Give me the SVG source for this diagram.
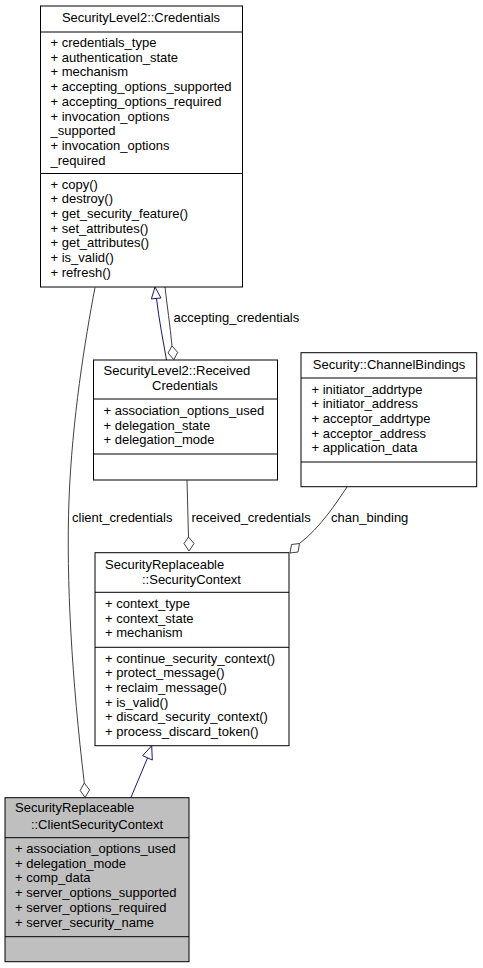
<svg xmlns="http://www.w3.org/2000/svg" width="483" height="968" viewBox="0 0 483 968">
<style>
text{font-family:"Liberation Sans",Arial,Helvetica,sans-serif;font-size:13px;fill:#000}
.c{text-anchor:middle}
.box{fill:#fff;stroke:#000;stroke-width:1}
.sel{fill:#bfbfbf;stroke:#000;stroke-width:1}
.div{stroke:#000;stroke-width:1;fill:none}
.agg{fill:none;stroke:#404040;stroke-width:1}
.aggh{fill:#fff;stroke:#404040;stroke-width:1}
.inh{fill:none;stroke:#191970;stroke-width:1}
.inhh{fill:#fff;stroke:#191970;stroke-width:1}
</style>
<rect width="483" height="968" fill="#fff"/>
<g id="connectors">
<path class="inh" d="M156.5,298.5 C159,320 163,340 166.5,360"/>
<polygon class="inhh" points="155,287 151.4,298.9 161,298"/>
<path class="agg" d="M165,287 C167,305 170,325 172,346"/>
<polygon class="aggh" points="173.8,359.6 177.7,352.4 172,346 168,353"/>
<path class="agg" d="M95,287.5 C85,340 72,420 69,500 C66,580 72,680 84.3,783"/>
<polygon class="aggh" points="85,797.5 89.5,790 84.3,783 80.2,790.4"/>
<path class="agg" d="M187,480 L188.5,537"/>
<polygon class="aggh" points="189,551 194,543.5 188.5,537 184,543.5"/>
<path class="agg" d="M347,487 C337,502 320,528 299.5,543.5"/>
<polygon class="aggh" points="290,553 298,552 299.5,543.5 291.5,544.5"/>
<path class="inh" d="M147.5,758 L130.7,798"/>
<polygon class="inhh" points="151.7,745.7 142.7,755.7 152.3,760"/>
<text x="173.5" y="322">accepting_credentials</text>
<text x="72" y="522">client_credentials</text>
<text x="191.5" y="522">received_credentials</text>
<text x="331" y="522">chan_binding</text>
</g>
<g id="node-credentials">
<rect class="box" x="40.5" y="6" width="202" height="281"/>
<line class="div" x1="40.5" y1="32" x2="242.5" y2="32"/>
<line class="div" x1="40.5" y1="173.5" x2="242.5" y2="173.5"/>
<text class="c" x="141" y="22">SecurityLevel2::Credentials</text>
<text x="50.5" y="47">+ credentials_type</text>
<text x="50.5" y="61.7">+ authentication_state</text>
<text x="50.5" y="76.4">+ mechanism</text>
<text x="50.5" y="91.1">+ accepting_options_supported</text>
<text x="50.5" y="105.8">+ accepting_options_required</text>
<text x="50.5" y="120.5">+ invocation_options</text>
<text x="50.5" y="135.2">_supported</text>
<text x="50.5" y="149.9">+ invocation_options</text>
<text x="50.5" y="164.6">_required</text>
<text x="50.5" y="188.5">+ copy()</text>
<text x="50.5" y="203.2">+ destroy()</text>
<text x="50.5" y="217.9">+ get_security_feature()</text>
<text x="50.5" y="232.6">+ set_attributes()</text>
<text x="50.5" y="247.3">+ get_attributes()</text>
<text x="50.5" y="262">+ is_valid()</text>
<text x="50.5" y="276.7">+ refresh()</text>
</g>
<g id="node-received">
<rect class="box" x="93.5" y="360" width="184" height="120"/>
<line class="div" x1="93.5" y1="399" x2="277.5" y2="399"/>
<line class="div" x1="93.5" y1="454" x2="277.5" y2="454"/>
<text x="103.5" y="375">SecurityLevel2::Received</text>
<text class="c" x="185" y="390">Credentials</text>
<text x="103.5" y="415">+ association_options_used</text>
<text x="103.5" y="429.7">+ delegation_state</text>
<text x="103.5" y="444.4">+ delegation_mode</text>
</g>
<g id="node-channelbindings">
<rect class="box" x="301" y="352.7" width="175.7" height="134"/>
<line class="div" x1="301" y1="378" x2="476.7" y2="378"/>
<line class="div" x1="301" y1="462" x2="476.7" y2="462"/>
<text class="c" x="389" y="369">Security::ChannelBindings</text>
<text x="311.5" y="393.5">+ initiator_addrtype</text>
<text x="311.5" y="408.2">+ initiator_address</text>
<text x="311.5" y="422.9">+ acceptor_addrtype</text>
<text x="311.5" y="437.6">+ acceptor_address</text>
<text x="311.5" y="452.3">+ application_data</text>
</g>
<g id="node-securitycontext">
<rect class="box" x="95" y="552.7" width="194" height="193"/>
<line class="div" x1="95" y1="592.3" x2="289" y2="592.3"/>
<line class="div" x1="95" y1="647.3" x2="289" y2="647.3"/>
<text x="105" y="569">SecurityReplaceable</text>
<text class="c" x="191.5" y="584">::SecurityContext</text>
<text x="105" y="608">+ context_type</text>
<text x="105" y="622.7">+ context_state</text>
<text x="105" y="637.4">+ mechanism</text>
<text x="105" y="662.5">+ continue_security_context()</text>
<text x="105" y="677.2">+ protect_message()</text>
<text x="105" y="691.9">+ reclaim_message()</text>
<text x="105" y="706.6">+ is_valid()</text>
<text x="105" y="721.3">+ discard_security_context()</text>
<text x="105" y="736">+ process_discard_token()</text>
</g>
<g id="node-clientsecuritycontext">
<rect class="sel" x="5" y="797.7" width="184" height="164"/>
<line class="div" x1="5" y1="837.7" x2="189" y2="837.7"/>
<line class="div" x1="5" y1="936.7" x2="189" y2="936.7"/>
<text x="15" y="812">SecurityReplaceable</text>
<text class="c" x="97" y="829">::ClientSecurityContext</text>
<text x="15" y="853">+ association_options_used</text>
<text x="15" y="867.7">+ delegation_mode</text>
<text x="15" y="882.4">+ comp_data</text>
<text x="15" y="897.1">+ server_options_supported</text>
<text x="15" y="911.8">+ server_options_required</text>
<text x="15" y="926.5">+ server_security_name</text>
</g>
</svg>
